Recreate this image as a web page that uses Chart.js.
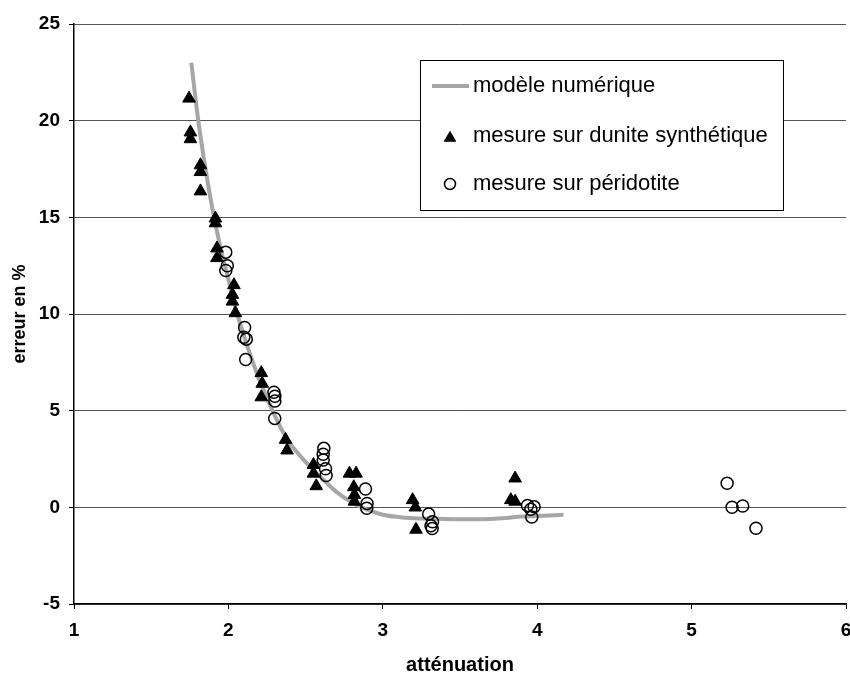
<!DOCTYPE html>
<html>
<head>
<meta charset="utf-8">
<script src="https://cdn.jsdelivr.net/npm/chart.js@4/dist/chart.umd.min.js"></script>
<style>
html,body{margin:0;padding:0;background:#fff;}
#wrap{width:850px;height:675px;position:relative;}
</style>
</head>
<body>
<div id="wrap"><canvas id="c" width="850" height="675"></canvas></div>
<script>
// ---- data ----
const seriesNames = ["modèle numérique", "mesure sur dunite synthétique", "mesure sur péridotite"];
const axisTitles = { x: "atténuation", y: "erreur en %" };

const modelX = [1.76, 1.80, 1.85, 1.90, 1.95, 2.00, 2.05, 2.10, 2.15, 2.20, 2.25, 2.30, 2.35, 2.40, 2.45, 2.50, 2.60, 2.70, 2.80, 2.90, 3.00, 3.10, 3.20, 3.40, 3.60, 3.70, 3.80, 3.90, 4.00, 4.17];
const modelY = [23.0, 20.3, 17.6, 15.3, 13.4, 11.8, 10.2, 8.9, 7.7, 6.6, 5.65, 4.75, 3.95, 3.3, 2.8, 2.35, 1.55, 0.8, 0.25, -0.12, -0.38, -0.5, -0.56, -0.6, -0.62, -0.6, -0.55, -0.48, -0.45, -0.38];

const duniteX = [1.745, 1.754, 1.754, 1.819, 1.819, 1.819, 1.916, 1.916, 1.926, 1.926, 2.036, 2.026, 2.026, 2.045, 2.213, 2.219, 2.213, 2.37, 2.38, 2.551, 2.551, 2.569, 2.784, 2.827, 2.812, 2.816, 2.816, 3.193, 3.211, 3.215, 3.857, 3.829, 3.857];
const duniteY = [21.15, 19.4, 19.05, 17.7, 17.35, 16.35, 14.95, 14.7, 13.4, 12.9, 11.5, 11.0, 10.65, 10.05, 6.95, 6.4, 5.7, 3.5, 2.95, 2.2, 1.75, 1.1, 1.75, 1.75, 1.05, 0.65, 0.3, 0.38, 0.0, -1.15, 1.5, 0.38, 0.3];

const periX = [1.983, 1.993, 1.983, 2.105, 2.100, 2.116, 2.112, 2.295, 2.301, 2.301, 2.300, 2.618, 2.614, 2.614, 2.629, 2.633, 2.888, 2.898, 2.896, 3.297, 3.322, 3.312, 3.320, 3.937, 3.980, 3.959, 3.965, 5.230, 5.262, 5.331, 5.417];
const periY = [13.2, 12.5, 12.25, 9.3, 8.8, 8.7, 7.65, 5.95, 5.75, 5.5, 4.6, 3.05, 2.75, 2.45, 2.0, 1.65, 0.95, 0.2, -0.05, -0.35, -0.75, -0.95, -1.1, 0.1, 0.03, -0.1, -0.5, 1.25, 0.0, 0.07, -1.08];

const xTicks = [1, 2, 3, 4, 5, 6];
const yTicks = [-5, 0, 5, 10, 15, 20, 25];

// ---- build ----
const zip = (xs, ys) => xs.map((x, i) => ({ x: x, y: ys[i] }));
const FONT = "'Liberation Sans', Arial, sans-serif";

const legendPlugin = {
  id: 'boxLegend',
  afterDraw(chart) {
    const ctx = chart.ctx;
    const ds = chart.data.datasets;
    ctx.save();
    ctx.fillStyle = '#fff';
    ctx.strokeStyle = '#000';
    ctx.lineWidth = 1;
    ctx.fillRect(420.5, 60.5, 363, 150);
    ctx.strokeRect(420.5, 60.5, 363, 150);
    const rows = [86, 136, 184];
    // line sample
    ctx.strokeStyle = ds[0].borderColor;
    ctx.lineWidth = ds[0].borderWidth;
    ctx.beginPath();
    ctx.moveTo(432, rows[0]);
    ctx.lineTo(469, rows[0]);
    ctx.stroke();
    // triangle sample
    ctx.fillStyle = ds[1].backgroundColor;
    ctx.strokeStyle = ds[1].borderColor;
    ctx.lineWidth = ds[1].borderWidth;
    ctx.beginPath();
    const r = 6.5;
    const cx = 450, cy = rows[1] + 2;
    ctx.moveTo(cx, cy - r);
    ctx.lineTo(cx + r * Math.sin(2 * Math.PI / 3), cy - r * Math.cos(2 * Math.PI / 3));
    ctx.lineTo(cx + r * Math.sin(4 * Math.PI / 3), cy - r * Math.cos(4 * Math.PI / 3));
    ctx.closePath();
    ctx.fill();
    ctx.stroke();
    // circle sample
    ctx.fillStyle = '#fff';
    ctx.strokeStyle = ds[2].borderColor;
    ctx.lineWidth = ds[2].borderWidth;
    ctx.beginPath();
    ctx.arc(450, rows[2], 5.5, 0, Math.PI * 2);
    ctx.fill();
    ctx.stroke();
    // texts
    ctx.font = "22px " + FONT;
    ctx.fillStyle = '#000';
    ctx.textBaseline = 'middle';
    ctx.textAlign = 'left';
    for (let i = 0; i < 3; i++) ctx.fillText(ds[i].label, 473, rows[i]);
    ctx.restore();
  }
};

new Chart(document.getElementById('c'), {
  type: 'scatter',
  data: {
    datasets: [
      {
        label: seriesNames[0], type: 'line', data: zip(modelX, modelY),
        borderColor: '#a6a6a6', borderWidth: 4, pointRadius: 0, showLine: true,
        cubicInterpolationMode: 'monotone', fill: false, order: 3
      },
      {
        label: seriesNames[1], data: zip(duniteX, duniteY),
        pointStyle: 'triangle', pointRadius: 7.3, backgroundColor: '#000', borderColor: '#000', borderWidth: 1, order: 2
      },
      {
        label: seriesNames[2], data: zip(periX, periY),
        pointStyle: 'circle', pointRadius: 6, backgroundColor: 'rgba(0,0,0,0)', borderColor: '#000', borderWidth: 1.5, order: 1
      }
    ]
  },
  options: {
    responsive: false,
    animation: false,
    layout: { autoPadding: false, padding: { top: 24, right: 4, left: 0, bottom: 0 } },
    plugins: { legend: { display: false }, tooltip: { enabled: false } },
    scales: {
      x: {
        type: 'linear', min: 1, max: 6,
        afterBuildTicks: (s) => { s.ticks = xTicks.map(v => ({ value: v })); },
        afterFit: (s) => { s.height = 71; s.paddingRight = 0; s.paddingLeft = 0; },
        ticks: { color: '#000', padding: 10, font: { family: FONT, size: 19, weight: 'bold' } },
        grid: { drawOnChartArea: false, drawTicks: true, tickLength: 5, tickColor: '#000', color: '#000' },
        border: { color: '#000', width: 1.5 },
        title: { display: true, text: axisTitles.x, color: '#000', font: { family: FONT, size: 20, weight: 'bold', lineHeight: 1 }, padding: { top: 0, bottom: 0 } }
      },
      y: {
        type: 'linear', min: -5, max: 25,
        afterBuildTicks: (s) => { s.ticks = yTicks.map(v => ({ value: v })); },
        afterFit: (s) => { s.width = 74; s.paddingTop = 0; s.paddingBottom = 0; },
        ticks: { color: '#000', padding: 9, font: { family: FONT, size: 19, weight: 'bold' } },
        grid: { color: '#555', lineWidth: 1, drawTicks: true, tickLength: 5, tickColor: '#000' },
        border: { color: '#000', width: 1.5 },
        title: { display: true, text: axisTitles.y, color: '#000', font: { family: FONT, size: 18, weight: 'bold', lineHeight: 1 }, padding: { top: 11, bottom: 0 } }
      }
    }
  },
  plugins: [legendPlugin]
});
</script>
</body>
</html>
